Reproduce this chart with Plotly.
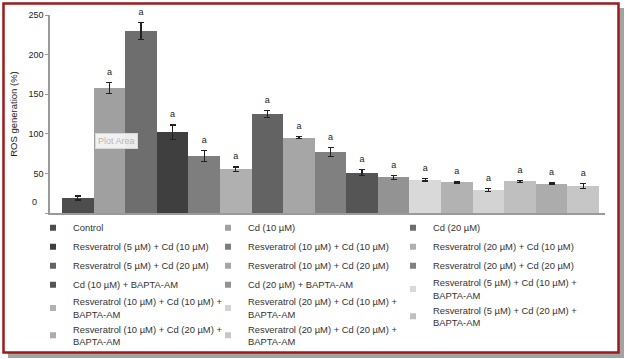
import plotly.graph_objects as go

groups = [
    "Control",
    "Cd (10 µM)",
    "Cd (20 µM)",
    "Resveratrol (5 µM) + Cd (10 µM)",
    "Resveratrol (10 µM) + Cd (10 µM)",
    "Resveratrol (20 µM) + Cd (10 µM)",
    "Resveratrol (5 µM) + Cd (20 µM)",
    "Resveratrol (10 µM) + Cd (20 µM)",
    "Resveratrol (20 µM) + Cd (20 µM)",
    "Cd (10 µM) + BAPTA-AM",
    "Cd (20 µM) + BAPTA-AM",
    "Resveratrol (5 µM) + Cd (10 µM) +<br>BAPTA-AM",
    "Resveratrol (10 µM) + Cd (10 µM) +<br>BAPTA-AM",
    "Resveratrol (20 µM) + Cd (10 µM) +<br>BAPTA-AM",
    "Resveratrol (5 µM) + Cd (20 µM) +<br>BAPTA-AM",
    "Resveratrol (10 µM) + Cd (20 µM) +<br>BAPTA-AM",
    "Resveratrol (20 µM) + Cd (20 µM) +<br>BAPTA-AM",
]
ros_values = [19, 158, 230, 102, 72, 55, 125, 95, 77, 51, 45, 42, 39, 29, 40, 37, 34]
ros_errors = [2.5, 7, 11, 9, 7, 3, 4, 1.2, 6, 4, 2.5, 1.5, 1, 1.5, 1.5, 0.8, 3]
significance = ["", "a", "a", "a", "a", "a", "a", "a", "a", "a", "a", "a", "a", "a", "a", "a", "a"]
bar_colors = ["#4d4d4d", "#a0a0a0", "#6e6e6e", "#3f3f3f", "#7e7e7e", "#b0b0b0",
              "#636363", "#a6a6a6", "#808080", "#555555", "#939393", "#d9d9d9",
              "#b2b2b2", "#d3d3d3", "#bfbfbf", "#acacac", "#c6c6c6"]
y_ticks = [0, 50, 100, 150, 200, 250]
# the legend is laid out in three columns, filled row by row
legend_columns = ["legend", "legend2", "legend3"]

FONT = "Arial, Liberation Sans, sans-serif"
fig = go.Figure()
idx = list(range(len(groups)))
for i, (name, v, e, c) in enumerate(zip(groups, ros_values, ros_errors, bar_colors)):
    fig.add_trace(go.Bar(
        x=[i], y=[v], name=name, showlegend=False,
        marker=dict(color=c, line=dict(width=0)),
        error_y=dict(type="data", array=[e], color="#222222", thickness=1.2, width=3),
    ))
    # small square legend key, like the reference's
    fig.add_trace(go.Scatter(
        x=[None], y=[None], name=name, mode="markers",
        legend=legend_columns[i % 3],
        marker=dict(symbol="square", size=6, color=c),
    ))
fig.add_trace(go.Scatter(
    x=idx, y=[v + e for v, e in zip(ros_values, ros_errors)], text=significance,
    mode="markers+text", textposition="top center", showlegend=False,
    marker=dict(size=7, opacity=0), hoverinfo="skip",
    textfont=dict(family=FONT, size=9, color="#222222"), cliponaxis=False,
))

W, H = 625, 359
ml, mr, mt, mb = 50, 20, 15, 146
pw, ph = W - ml - mr, H - mt - mb
def px(x):
    return (x - ml) / pw
def py(y):
    return (H - mb - y) / ph

shapes = [
    dict(type="rect", xref="paper", yref="paper", layer="below",
         x0=px(8), x1=px(624), y0=py(8), y1=py(358),
         fillcolor="#a3a3a3", line=dict(width=0)),
    dict(type="rect", xref="paper", yref="paper", layer="below",
         x0=px(3.5), x1=px(618.5), y0=py(3.5), y1=py(352.5),
         fillcolor="white", line=dict(color="#9e1a1a", width=2.5)),
]

def legend_box(text_left):
    return dict(orientation="v", x=px(text_left - 40), xanchor="left", y=-0.001, yanchor="top",
                font=dict(size=9.4, color="#333333"), bgcolor="rgba(0,0,0,0)",
                traceorder="normal", tracegroupgap=0, itemsizing="trace")

fig.update_layout(
    width=W, height=H,
    margin=dict(l=ml, r=mr, t=mt, b=mb, pad=0, autoexpand=False),
    paper_bgcolor="white", plot_bgcolor="rgba(0,0,0,0)",
    barmode="overlay", bargap=0,
    font=dict(family=FONT, size=9, color="#222222"),
    shapes=shapes,
    xaxis=dict(range=[-0.88, 16.69], showticklabels=False, showgrid=False, zeroline=False,
               showline=True, linecolor="#9a9a9a", linewidth=1.5, ticks=""),
    yaxis=dict(range=[0, 250], tickvals=y_ticks,
               ticktext=["" if t == 0 else str(t) for t in y_ticks],
               showgrid=False, zeroline=False, showline=True, linecolor="#9a9a9a", linewidth=1.5,
               ticks="outside", ticklen=3, tickcolor="#9a9a9a",
               tickfont=dict(size=9, color="#222222"),
               title=dict(text="ROS generation (%)", font=dict(size=9.5, color="#222222"), standoff=9)),
    legend=legend_box(73),
    legend2=legend_box(248),
    legend3=legend_box(433),
    annotations=[
        dict(text="0", xref="paper", yref="y", x=-0.02, y=14, xanchor="right", yanchor="middle",
             showarrow=False, font=dict(size=9, color="#222222")),
        dict(text="Plot Area", xref="paper", yref="paper", x=px(95), y=py(149),
             showarrow=False, font=dict(size=9, color="#b8b8b8"),
             bgcolor="rgba(250,250,250,0.9)", bordercolor="#d8d8d8", borderwidth=1, borderpad=2),
    ],
)
fig.write_html("out.html", config={"displayModeBar": False},
               post_script="document.body.style.margin='0';document.body.style.overflow='hidden';")
